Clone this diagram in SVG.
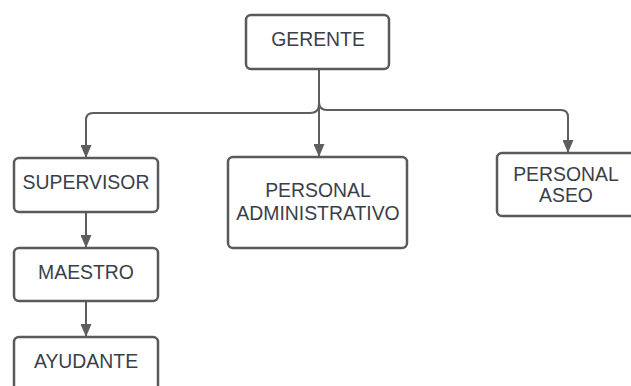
<svg xmlns="http://www.w3.org/2000/svg" width="631" height="386" viewBox="0 0 631 386">
<defs>
<marker id="arr" markerWidth="13" markerHeight="11" refX="13" refY="5.5" orient="auto" markerUnits="userSpaceOnUse">
<path d="M0,0 L13,5.5 L0,11 z" fill="#5e5e5e"/>
</marker>
<style>
.box{fill:#ffffff;stroke:#5a5a5a;stroke-width:2.5}
.lbl{font-family:"Liberation Sans",Arial,sans-serif;font-size:19.4px;fill:#3a4049;text-anchor:middle}
.con{fill:none;stroke:#5e5e5e;stroke-width:2}
</style>
</defs>
<rect width="631" height="386" fill="#ffffff"/>
<g id="connectors">
<path class="con" d="M319,69 V157" marker-end="url(#arr)"/>
<path class="con" d="M319,104 Q319,113 310,113 H93 Q86,113 86,120 V158" marker-end="url(#arr)"/>
<path class="con" d="M319,102 Q319,110 327,110 H561 Q568,110 568,117 V153" marker-end="url(#arr)"/>
<path class="con" d="M86,212 V248" marker-end="url(#arr)"/>
<path class="con" d="M86,301 V337" marker-end="url(#arr)"/>
</g>
<g id="gerente">
<rect class="box" x="246" y="15" width="143" height="54" rx="5"/>
<text class="lbl" x="318" y="46">GERENTE</text>
</g>
<g id="supervisor">
<rect class="box" x="14" y="158" width="144" height="54" rx="5"/>
<text class="lbl" x="86" y="189">SUPERVISOR</text>
</g>
<g id="maestro">
<rect class="box" x="14" y="248" width="144" height="53" rx="5"/>
<text class="lbl" x="86" y="279">MAESTRO</text>
</g>
<g id="ayudante">
<rect class="box" x="14" y="337" width="144" height="56" rx="5"/>
<text class="lbl" x="86" y="368">AYUDANTE</text>
</g>
<g id="personal-administrativo">
<rect class="box" x="228" y="157" width="179" height="91" rx="5"/>
<text class="lbl" x="318" y="197">PERSONAL</text>
<text class="lbl" x="318" y="220">ADMINISTRATIVO</text>
</g>
<g id="personal-aseo">
<rect class="box" x="497" y="153" width="140" height="63" rx="5"/>
<text class="lbl" x="566" y="181">PERSONAL</text>
<text class="lbl" x="566" y="202">ASEO</text>
</g>
</svg>
